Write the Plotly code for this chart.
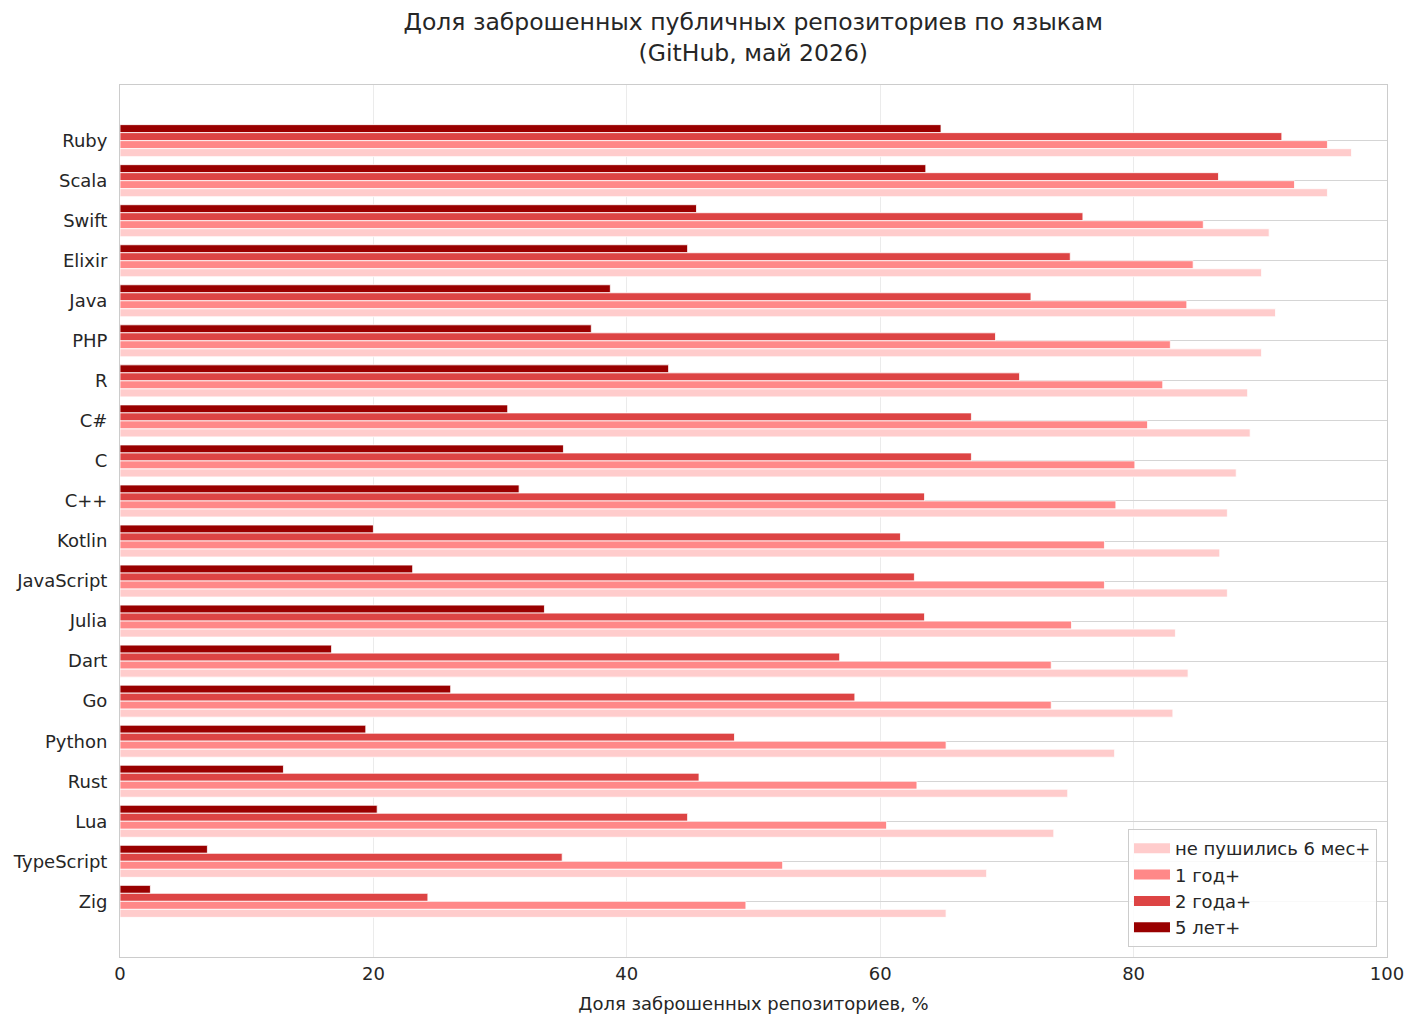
import plotly.graph_objects as go

languages = ["Ruby", "Scala", "Swift", "Elixir", "Java", "PHP", "R", "C#", "C", "C++",
             "Kotlin", "JavaScript", "Julia", "Dart", "Go", "Python", "Rust", "Lua",
             "TypeScript", "Zig"]

# % of repos not pushed for given period
months_6 = [97.2, 95.3, 90.7, 90.1, 91.2, 90.1, 89.0, 89.2, 88.1, 87.4,
            86.8, 87.4, 83.3, 84.3, 83.1, 78.5, 74.8, 73.7, 68.4, 65.2]
year_1 = [95.3, 92.7, 85.5, 84.7, 84.2, 82.9, 82.3, 81.1, 80.1, 78.6,
          77.7, 77.7, 75.1, 73.5, 73.5, 65.2, 62.9, 60.5, 52.3, 49.4]
years_2 = [91.7, 86.7, 76.0, 75.0, 71.9, 69.1, 71.0, 67.2, 67.2, 63.5,
           61.6, 62.7, 63.5, 56.8, 58.0, 48.5, 45.7, 44.8, 34.9, 24.3]
years_5 = [64.8, 63.6, 45.5, 44.8, 38.7, 37.2, 43.3, 30.6, 35.0, 31.5,
           20.0, 23.1, 33.5, 16.7, 26.1, 19.4, 12.9, 20.3, 6.9, 2.4]

series = [
    ("5 лет+", years_5, "#990000"),
    ("2 года+", years_2, "#dd4444"),
    ("1 год+", year_1, "#ff8888"),
    ("не пушились 6 мес+", months_6, "#ffcccc"),
]

fig = go.Figure()
for name, vals, color in series:
    fig.add_trace(go.Bar(
        y=languages,
        x=vals,
        orientation='h',
        name=name,
        showlegend=False,
        marker=dict(color=color, line=dict(color='white', width=0.8))
    ))

# legend entries (wide rectangle keys like matplotlib)
for name, vals, color in series[::-1]:
    fig.add_trace(go.Scatter(
        x=[None], y=[None],
        mode='lines',
        name=name,
        legendgroup=name,
        line=dict(color=color, width=12)
    ))

fig.update_layout(
    width=1416,
    height=1026,
    barmode='group',
    bargap=0.2,
    bargroupgap=0,
    plot_bgcolor='white',
    paper_bgcolor='white',
    font=dict(family='DejaVu Sans', size=18, color='#262626'),
    margin=dict(l=120, r=29, t=85, b=69),
    title=dict(
        text='Доля заброшенных публичных репозиториев по языкам<br>(GitHub, май 2026)',
        x=0.532, xanchor='center',
        y=1 - 30 / 1026, yanchor='top', yref='container',
        font=dict(size=23.5, color='#262626')
    ),
    legend=dict(
        traceorder='grouped',
        tracegroupgap=0,
        itemwidth=36,
        x=0.9921, xanchor='right',
        y=0.0115, yanchor='bottom',
        bgcolor='rgba(255,255,255,0.85)',
        bordercolor='#cccccc', borderwidth=1,
        font=dict(size=18)
    ),
    showlegend=True
)

fig.update_xaxes(
    range=[0, 100],
    dtick=20,
    showgrid=True, gridcolor='#ebebeb',
    showline=True, linecolor='#cccccc', mirror=True,
    zeroline=False,
    ticks='', ticklabelstandoff=0,
    title=dict(text='Доля заброшенных репозиториев, %', font=dict(size=18), standoff=14)
)

fig.update_yaxes(
    type='category',
    range=[20.39, -1.39],
    showgrid=True, gridcolor='#d5d5d5',
    showline=True, linecolor='#cccccc', mirror=True,
    ticks='', ticklabelstandoff=8
)

fig.write_html("out.html", config={'displayModeBar': False},
               post_script="document.body.style.margin='0';")
